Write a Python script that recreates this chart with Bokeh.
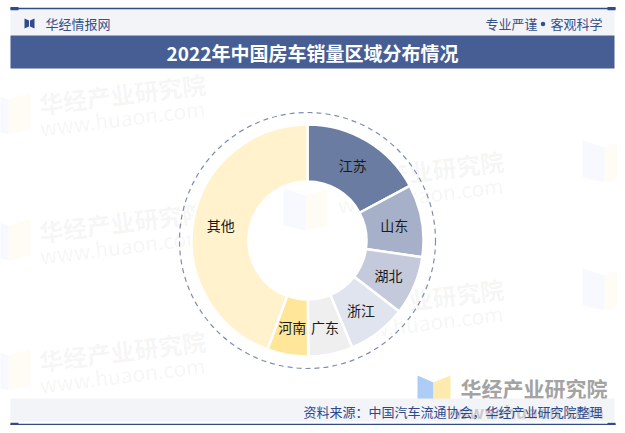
import math
from bokeh.plotting import figure
from bokeh.models import Range1d
from bokeh.core.properties import value
from bokeh.embed import file_html
from bokeh.resources import INLINE

# ---- data ----
regions = ["江苏", "山东", "湖北", "浙江", "广东", "河南", "其他"]
shares = [17.2, 10.1, 8.2, 8.2, 6.2, 5.7, 44.4]
slice_colors = ["#6a7ca1", "#a6b1c9", "#c4cadb", "#e0e4ee", "#efefef", "#ffe699", "#fff2cc"]
title_text = "2022年中国房车销量区域分布情况"
brand_text = "华经情报网"
motto_left = "专业严谨"
motto_right = "客观科学"
source_text = "资料来源：中国汽车流通协会，华经产业研究院整理"
wm_title = "华经产业研究院"
wm_url = "www.huaon.com"

FONT = value("Noto Sans CJK SC")
W, H = 617, 425


def Y(py):
    return 433 - py


p = figure(width=W, height=H, x_range=Range1d(0, W), y_range=Range1d(433 - H, 433),
           output_backend="svg", toolbar_location=None, min_border=0,
           x_axis_location=None, y_axis_location=None)
p.grid.visible = False
p.outline_line_color = None
p.background_fill_color = "white"
p.border_fill_color = "white"

DARK = "#2f4b8a"

# ---- faint tiled watermarks ----
def faint_logo(x0, ytop, w=22, h=42, a=0.06):
    p.patch([x0, x0 + w, x0 + w, x0], [Y(ytop), Y(ytop + 7), Y(ytop + h), Y(ytop + h - 5)],
            fill_color="#6fa0e8", fill_alpha=a, line_color=None)
    p.patch([x0 + w, x0 + 2 * w, x0 + 2 * w, x0 + w], [Y(ytop + 7), Y(ytop), Y(ytop + h - 5), Y(ytop + h)],
            fill_color="#f7d36a", fill_alpha=a, line_color=None)

for (lx, ly) in [(-14, 92), (-14, 218), (-14, 348), (283, 188), (582, 140), (582, 268)]:
    faint_logo(lx, ly)

wm_pos = [(122, 93), (122, 221), (122, 350), (420, 170), (420, 298)]
ang = math.radians(7)
p.text(x=[x for x, _ in wm_pos], y=[Y(y) for _, y in wm_pos], text=[wm_title] * len(wm_pos),
       angle=ang, text_align="center", text_baseline="middle", text_font=FONT,
       text_font_size="24px", text_font_style="bold", text_color="#7a7a7a", text_alpha=0.08)
p.text(x=[x for x, _ in wm_pos], y=[Y(y + 24) for _, y in wm_pos], text=[wm_url] * len(wm_pos),
       angle=ang, text_align="center", text_baseline="middle", text_font=FONT,
       text_font_size="21px", text_color="#7a7a7a", text_alpha=0.07)

# ---- header ----
p.quad(left=10, right=614, top=Y(8), bottom=Y(35), fill_color="#f3f4f8", line_color=None)
p.segment(x0=10, x1=615, y0=Y(8), y1=Y(8), line_color=DARK, line_width=1.5)
p.quad(left=[10, 607], right=[18, 615], top=[Y(6.5)] * 2, bottom=[Y(9.8)] * 2,
       fill_color=DARK, line_color=None)
# brand icon
p.patch([24, 28.5, 28.5, 24], [Y(18), Y(20), Y(26), Y(28)], fill_color=DARK, line_color=None)
p.patch([29.5, 34, 34, 29.5], [Y(20), Y(18), Y(28), Y(26)], fill_color=DARK, line_color=None)
p.text(x=[45], y=[Y(23)], text=[brand_text], text_font=FONT, text_font_size="13px",
       text_baseline="middle", text_color="#34508c")
p.text(x=[537], y=[Y(23)], text=[motto_left], text_font=FONT, text_font_size="13px",
       text_baseline="middle", text_align="right", text_color="#34508c")
p.scatter(x=[542.5], y=[Y(23.5)], size=4.5, marker="circle", fill_color="#34508c", line_color=None)
p.text(x=[602], y=[Y(23)], text=[motto_right], text_font=FONT, text_font_size="13px",
       text_baseline="middle", text_align="right", text_color="#34508c")

# ---- title bar ----
p.quad(left=10, right=614, top=Y(35), bottom=Y(68), fill_color="#465e94", line_color=None)
p.text(x=[312], y=[Y(52)], text=[title_text], text_font=FONT, text_font_size="19px",
       text_font_style="bold", text_align="center", text_baseline="middle", text_color="white")

# ---- donut ----
cx, cy = 307, Y(240)
total = sum(shares)
starts, ends, mids = [], [], []
acc = 0.0
for s in shares:
    a0 = math.pi / 2 - 2 * math.pi * acc / total
    acc += s
    a1 = math.pi / 2 - 2 * math.pi * acc / total
    starts.append(a0)
    ends.append(a1)
    mids.append((a0 + a1) / 2)

p.circle(x=cx, y=cy, radius=128, fill_color=None, line_color="#7f8db0",
         line_dash="5 4", line_width=1.2)
p.annular_wedge(x=cx, y=cy, inner_radius=59, outer_radius=116,
                start_angle=starts, end_angle=ends, direction="clock",
                fill_color=slice_colors, line_color="white", line_width=2.5)

r_lab = 88
lx = [cx + r_lab * math.cos(m) for m in mids]
ly = [cy + r_lab * math.sin(m) for m in mids]
p.text(x=lx, y=ly, text=regions, text_font=FONT, text_font_size="14px",
       text_align="center", text_baseline="middle", text_color="#1a1a1a")

# ---- bottom-right watermark ----
p.patch([417, 433, 433, 417], [Y(375), Y(382), Y(410), Y(405)], fill_color="#a9c9f5",
        fill_alpha=0.95, line_color=None)
p.patch([433, 450, 450, 433], [Y(382), Y(375), Y(405), Y(410)], fill_color="#fde9a8",
        fill_alpha=0.95, line_color=None)
p.text(x=[460], y=[Y(387)], text=[wm_title], text_font=FONT, text_font_size="21px",
       text_font_style="bold", text_baseline="middle", text_color="#a3a3a3")

# ---- footer ----
p.quad(left=10, right=614, top=Y(398), bottom=Y(421), fill_color="#f3f4f8", line_color=None)
p.text(x=[528], y=[Y(410)], text=[wm_url], text_font=FONT, text_font_size="18px",
       text_font_style="bold", text_align="center", text_baseline="middle",
       text_color="#a3a3a3", text_alpha=0.5)
p.text(x=[602], y=[Y(410.5)], text=[source_text], text_font=FONT, text_font_size="13px",
       text_align="right", text_baseline="middle", text_color="#2b4a8c")
p.segment(x0=10, x1=615, y0=Y(424), y1=Y(424), line_color=DARK, line_width=1.5)
p.quad(left=[10, 607], right=[18, 615], top=[Y(422.3)] * 2, bottom=[Y(425.5)] * 2,
       fill_color=DARK, line_color=None)

open("out.html", "w").write(file_html(p, INLINE))
